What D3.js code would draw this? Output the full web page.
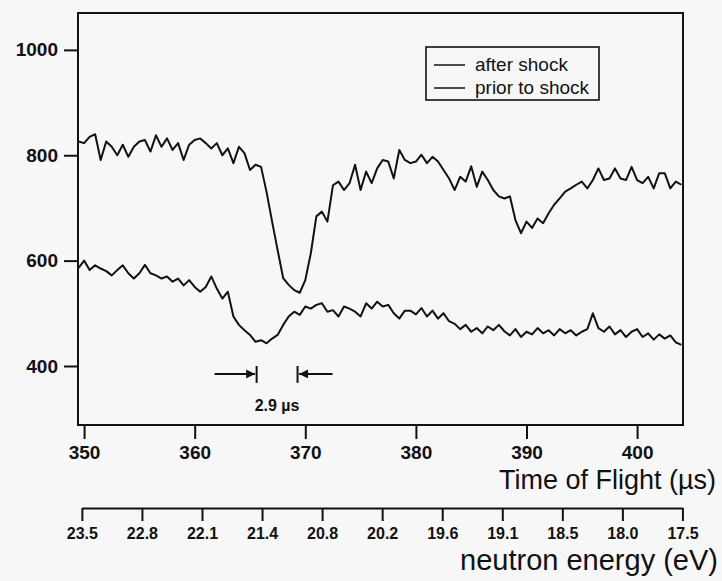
<!DOCTYPE html>
<html>
<head>
<meta charset="utf-8">
<script src="https://cdn.jsdelivr.net/npm/d3@7"></script>
<style>
  html, body { margin: 0; padding: 0; background: #f7f7f7; }
  svg { display: block; }
  text { font-family: "Liberation Sans", Arial, Helvetica, sans-serif; fill: #111; }
</style>
</head>
<body>
<svg id="chart" width="722" height="581"></svg>
<script>
// ---------------- data ----------------
const tofStart = 349.5;   // µs, first sample
const tofStep = 0.5;      // µs between samples

// upper trace (narrow, deep resonance dip)
const priorToShock = [
  826,823,835,840,791,826,816,800,820,797,
  816,826,829,807,838,816,832,810,823,791,
  820,829,832,823,813,823,800,813,785,816,
  804,772,782,778,730,674,620,567,554,544,
  539,563,614,684,693,674,743,750,734,747,
  782,734,769,747,775,791,788,756,810,791,
  785,788,801,785,797,788,772,756,734,759,
  750,779,740,769,753,734,722,718,722,677,
  652,674,662,680,671,690,706,718,731,737,
  744,750,737,753,775,753,756,775,756,753,
  778,753,747,759,737,766,766,737,750,744
];

// lower trace (broadened, shifted dip)
const afterShock = [
  586,600,582,591,585,580,572,582,591,576,
  566,576,592,576,572,566,570,560,566,553,
  563,550,541,550,570,547,528,541,494,478,
  468,459,446,449,443,452,459,478,494,503,
  497,513,509,516,519,503,506,494,513,509,
  503,494,519,509,522,513,516,500,490,505,
  505,498,510,494,505,490,500,485,480,470,
  478,465,472,462,475,468,478,466,458,470,
  455,465,460,472,462,468,458,470,462,468,
  458,465,470,500,472,465,475,460,468,455,
  465,470,455,462,450,460,452,458,445,440
];

const tofTicks = [350, 360, 370, 380, 390, 400];
const countTicks = [400, 600, 800, 1000];
const energyLabels = ["23.5","22.8","22.1","21.4","20.8","20.2","19.6","19.1","18.5","18.0","17.5"];
const energyRangeTOF = [349.8, 404.1];   // TOF span covered by the energy scale

const legendLabels = ["after shock", "prior to shock"];
const shiftMarkers = [365.6, 369.3];     // µs, the two dip centres
const shiftLabel = "2.9 µs";

// ---------------- layout ----------------
const svg = d3.select("#chart");
const frame = { left: 78, right: 683, top: 13, bottom: 425 };

const x = d3.scaleLinear().domain([349.45, 404.15]).range([frame.left, frame.right]);
const y = d3.scaleLinear().domain([288, 1070]).range([frame.bottom, frame.top]);

const ink = "#111";
const tickFont = "Liberation Sans, Arial, sans-serif";

// frame box
svg.append("rect")
  .attr("x", frame.left).attr("y", frame.top)
  .attr("width", frame.right - frame.left).attr("height", frame.bottom - frame.top)
  .attr("fill", "none").attr("stroke", ink).attr("stroke-width", 2);

// y axis
const yAxis = svg.append("g")
  .attr("transform", `translate(${frame.left},0)`)
  .call(d3.axisLeft(y).tickValues(countTicks).tickFormat(d3.format("d"))
    .tickSize(14).tickPadding(6).tickSizeOuter(0));
yAxis.select(".domain").remove();
yAxis.selectAll(".tick line").attr("stroke", ink).attr("stroke-width", 2);
yAxis.selectAll(".tick text")
  .style("font-family", tickFont)
  .style("font-size", "19px").style("font-weight", "bold").attr("fill", ink);

// TOF axis
const xAxis = svg.append("g")
  .attr("transform", `translate(0,${frame.bottom})`)
  .call(d3.axisBottom(x).tickValues(tofTicks).tickFormat(d3.format("d"))
    .tickSize(14).tickPadding(7).tickSizeOuter(0));
xAxis.select(".domain").remove();
xAxis.selectAll(".tick line").attr("stroke", ink).attr("stroke-width", 2);
xAxis.selectAll(".tick text")
  .style("font-family", tickFont)
  .style("font-size", "19px").style("font-weight", "bold").attr("fill", ink);

svg.append("text")
  .attr("x", 716).attr("y", 489)
  .attr("text-anchor", "end")
  .style("font-size", "27px")
  .text("Time of Flight (µs)");

// energy axis
const e = d3.scalePoint().domain(energyLabels).range([x(energyRangeTOF[0]), x(energyRangeTOF[1])]);
const eAxis = svg.append("g")
  .attr("transform", `translate(0,508)`)
  .call(d3.axisBottom(e).tickSize(13).tickPadding(7).tickSizeOuter(0));
eAxis.select(".domain").attr("stroke", ink).attr("stroke-width", 2);
eAxis.selectAll(".tick line").attr("stroke", ink).attr("stroke-width", 2);
eAxis.selectAll(".tick text")
  .style("font-family", tickFont)
  .style("font-size", "16px").style("font-weight", "bold").attr("fill", ink);

svg.append("text")
  .attr("x", 718).attr("y", 570)
  .attr("text-anchor", "end")
  .style("font-size", "29px")
  .text("neutron energy (eV)");

// traces
const line = d3.line()
  .x((d, i) => x(tofStart + i * tofStep))
  .y(d => y(d));

const plot = svg.append("g");
[priorToShock, afterShock].forEach(series => {
  plot.append("path")
    .datum(series)
    .attr("d", line)
    .attr("fill", "none")
    .attr("stroke", ink)
    .attr("stroke-width", 2)
    .attr("stroke-linejoin", "round");
});

// legend
const lg = svg.append("g").attr("transform", "translate(426,47)");
lg.append("rect").attr("width", 173).attr("height", 53)
  .attr("fill", "none").attr("stroke", ink).attr("stroke-width", 1.6);
legendLabels.forEach((lab, i) => {
  const yy = 18 + i * 23;
  lg.append("line").attr("x1", 8).attr("x2", 39).attr("y1", yy).attr("y2", yy)
    .attr("stroke", ink).attr("stroke-width", 1.5);
  lg.append("text").attr("x", 49).attr("y", yy + 6)
    .style("font-size", "19px").text(lab);
});

// shift annotation
const arrowY = y(385), barTop = y(400), barBot = y(368);
const defs = svg.append("defs");
defs.append("marker").attr("id", "ah").attr("viewBox", "0 0 10 10")
  .attr("refX", 10).attr("refY", 5).attr("markerWidth", 13).attr("markerHeight", 9)
  .attr("markerUnits", "userSpaceOnUse").attr("orient", "auto")
  .append("path").attr("d", "M0,0L10,5L0,10Z").attr("fill", ink);

const ann = svg.append("g");
shiftMarkers.forEach((t, i) => {
  const bx = x(t);
  ann.append("line").attr("x1", bx).attr("x2", bx).attr("y1", barTop).attr("y2", barBot)
    .attr("stroke", ink).attr("stroke-width", 2);
  const tail = i === 0 ? bx - 42 : bx + 35;
  const tip = i === 0 ? bx - 1.5 : bx + 1.5;
  ann.append("line").attr("x1", tail).attr("x2", tip).attr("y1", arrowY).attr("y2", arrowY)
    .attr("stroke", ink).attr("stroke-width", 2).attr("marker-end", "url(#ah)");
});
ann.append("text")
  .attr("x", (x(shiftMarkers[0]) + x(shiftMarkers[1])) / 2)
  .attr("y", y(314))
  .attr("text-anchor", "middle")
  .style("font-size", "16px").style("font-weight", "bold")
  .text(shiftLabel);
</script>
</body>
</html>
